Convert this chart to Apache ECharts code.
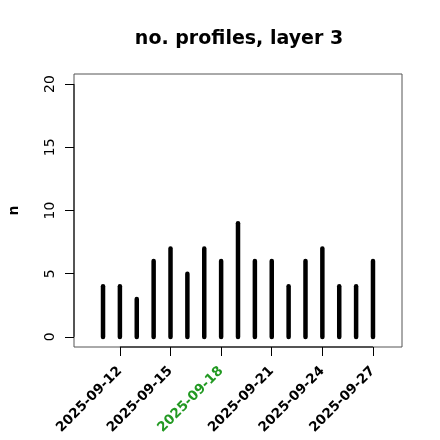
<!DOCTYPE html>
<html>
<head>
<meta charset="utf-8">
<script src="https://cdn.jsdelivr.net/npm/echarts@6/dist/echarts.min.js"></script>
<style>html,body{margin:0;padding:0;background:#fff;}#c{width:440px;height:440px;}</style>
</head>
<body>
<div id="c"></div>
<script>
const titleText = 'no. profiles, layer 3';
const yName = 'n';
const dates = ['2025-09-11','2025-09-12','2025-09-13','2025-09-14','2025-09-15','2025-09-16','2025-09-17','2025-09-18','2025-09-19','2025-09-20','2025-09-21','2025-09-22','2025-09-23','2025-09-24','2025-09-25','2025-09-26','2025-09-27'];
const counts = [4,4,3,6,7,5,7,6,9,6,6,4,6,7,4,4,6];
const xTickLabels = ['2025-09-12','2025-09-15','2025-09-18','2025-09-21','2025-09-24','2025-09-27'];
const highlightLabel = '2025-09-18';
const yTicks = [0,5,10,15,20];
const xLimDates = ['2025-09-10','2025-09-28'];
const yLim = [0,20];

const DAY = 86400000;
const base = Date.parse(dates[0]);
const toDay = d => (Date.parse(d) - base) / DAY;
const fromDay = v => new Date(base + Math.round(v) * DAY).toISOString().slice(0,10);

const xl0 = toDay(xLimDates[0]), xl1 = toDay(xLimDates[1]);
const xPad = (xl1 - xl0) * 0.04;
const xMin = xl0 - xPad, xMax = xl1 + xPad;
const yPad = (yLim[1] - yLim[0]) * 0.04;
const yMin = yLim[0] - yPad, yMax = yLim[1] + yPad;
const xTickVals = xTickLabels.map(toDay);

const data = dates.map((d, i) => [toDay(d), counts[i]]);

const chart = echarts.init(document.getElementById('c'), null, {renderer: 'canvas'});
const font = 'DejaVu Sans';
chart.setOption({
  animation: false,
  backgroundColor: '#fff',
  title: {
    text: titleText, left: 234, top: 25, textAlign: 'center',
    textStyle: {fontFamily: font, fontWeight: 'bold', fontSize: 19, color: '#000'}
  },
  grid: {left: 74, right: 38, top: 74, bottom: 93, show: true, borderColor: '#555', borderWidth: 1,
    backgroundColor: 'transparent', outerBoundsMode: 'none', containLabel: false},
  xAxis: {
    type: 'value', min: xMin, max: xMax,
    splitLine: {show: false},
    axisLine: {show: false, onZero: false},
    axisTick: {show: true, customValues: xTickVals, length: 9, lineStyle: {color: '#000', width: 1}},
    axisLabel: {
      customValues: xTickVals, rotate: 45, margin: 22, hideOverlap: false,
      fontFamily: font, fontWeight: 'bold', fontSize: 13.5,
      formatter: v => fromDay(v),
      color: v => fromDay(v) === highlightLabel ? '#229922' : '#000'
    }
  },
  yAxis: {
    type: 'value', min: yMin, max: yMax,
    name: yName, nameLocation: 'middle', nameGap: 53, nameRotate: 90,
    nameTextStyle: {fontFamily: font, fontWeight: 'bold', fontSize: 14, color: '#000'},
    splitLine: {show: false},
    axisLine: {show: false, onZero: false},
    axisTick: {show: true, customValues: yTicks, length: 9, lineStyle: {color: '#000', width: 1}},
    axisLabel: {customValues: yTicks, rotate: 90, margin: 17, fontFamily: font, fontSize: 14, color: '#000'}
  },
  series: [
    {
      type: 'custom',
      data: data,
      clip: false,
      renderItem: function (params, api) {
        const x = api.value(0), y = api.value(1);
        const p0 = api.coord([x, 0]);
        const p1 = api.coord([x, y]);
        return {type: 'line', shape: {x1: p0[0], y1: p0[1], x2: p1[0], y2: p1[1]},
          style: {stroke: '#000', lineWidth: 4.5, lineCap: 'round'}};
      }
    },
    {
      type: 'custom',
      data: [[0, 0]],
      clip: false,
      renderItem: function (params, api) {
        const a0 = api.coord([xMin, yTicks[0]]);
        const a1 = api.coord([xMin, yTicks[yTicks.length - 1]]);
        const b0 = api.coord([xTickVals[0], yMin]);
        const b1 = api.coord([xTickVals[xTickVals.length - 1], yMin]);
        return {type: 'group', children: [
          {type: 'line', shape: {x1: a0[0], y1: a0[1], x2: a1[0], y2: a1[1]}, style: {stroke: '#000', lineWidth: 1}},
          {type: 'line', shape: {x1: b0[0], y1: b0[1], x2: b1[0], y2: b1[1]}, style: {stroke: '#000', lineWidth: 1}}
        ]};
      }
    }
  ]
});
</script>
</body>
</html>
